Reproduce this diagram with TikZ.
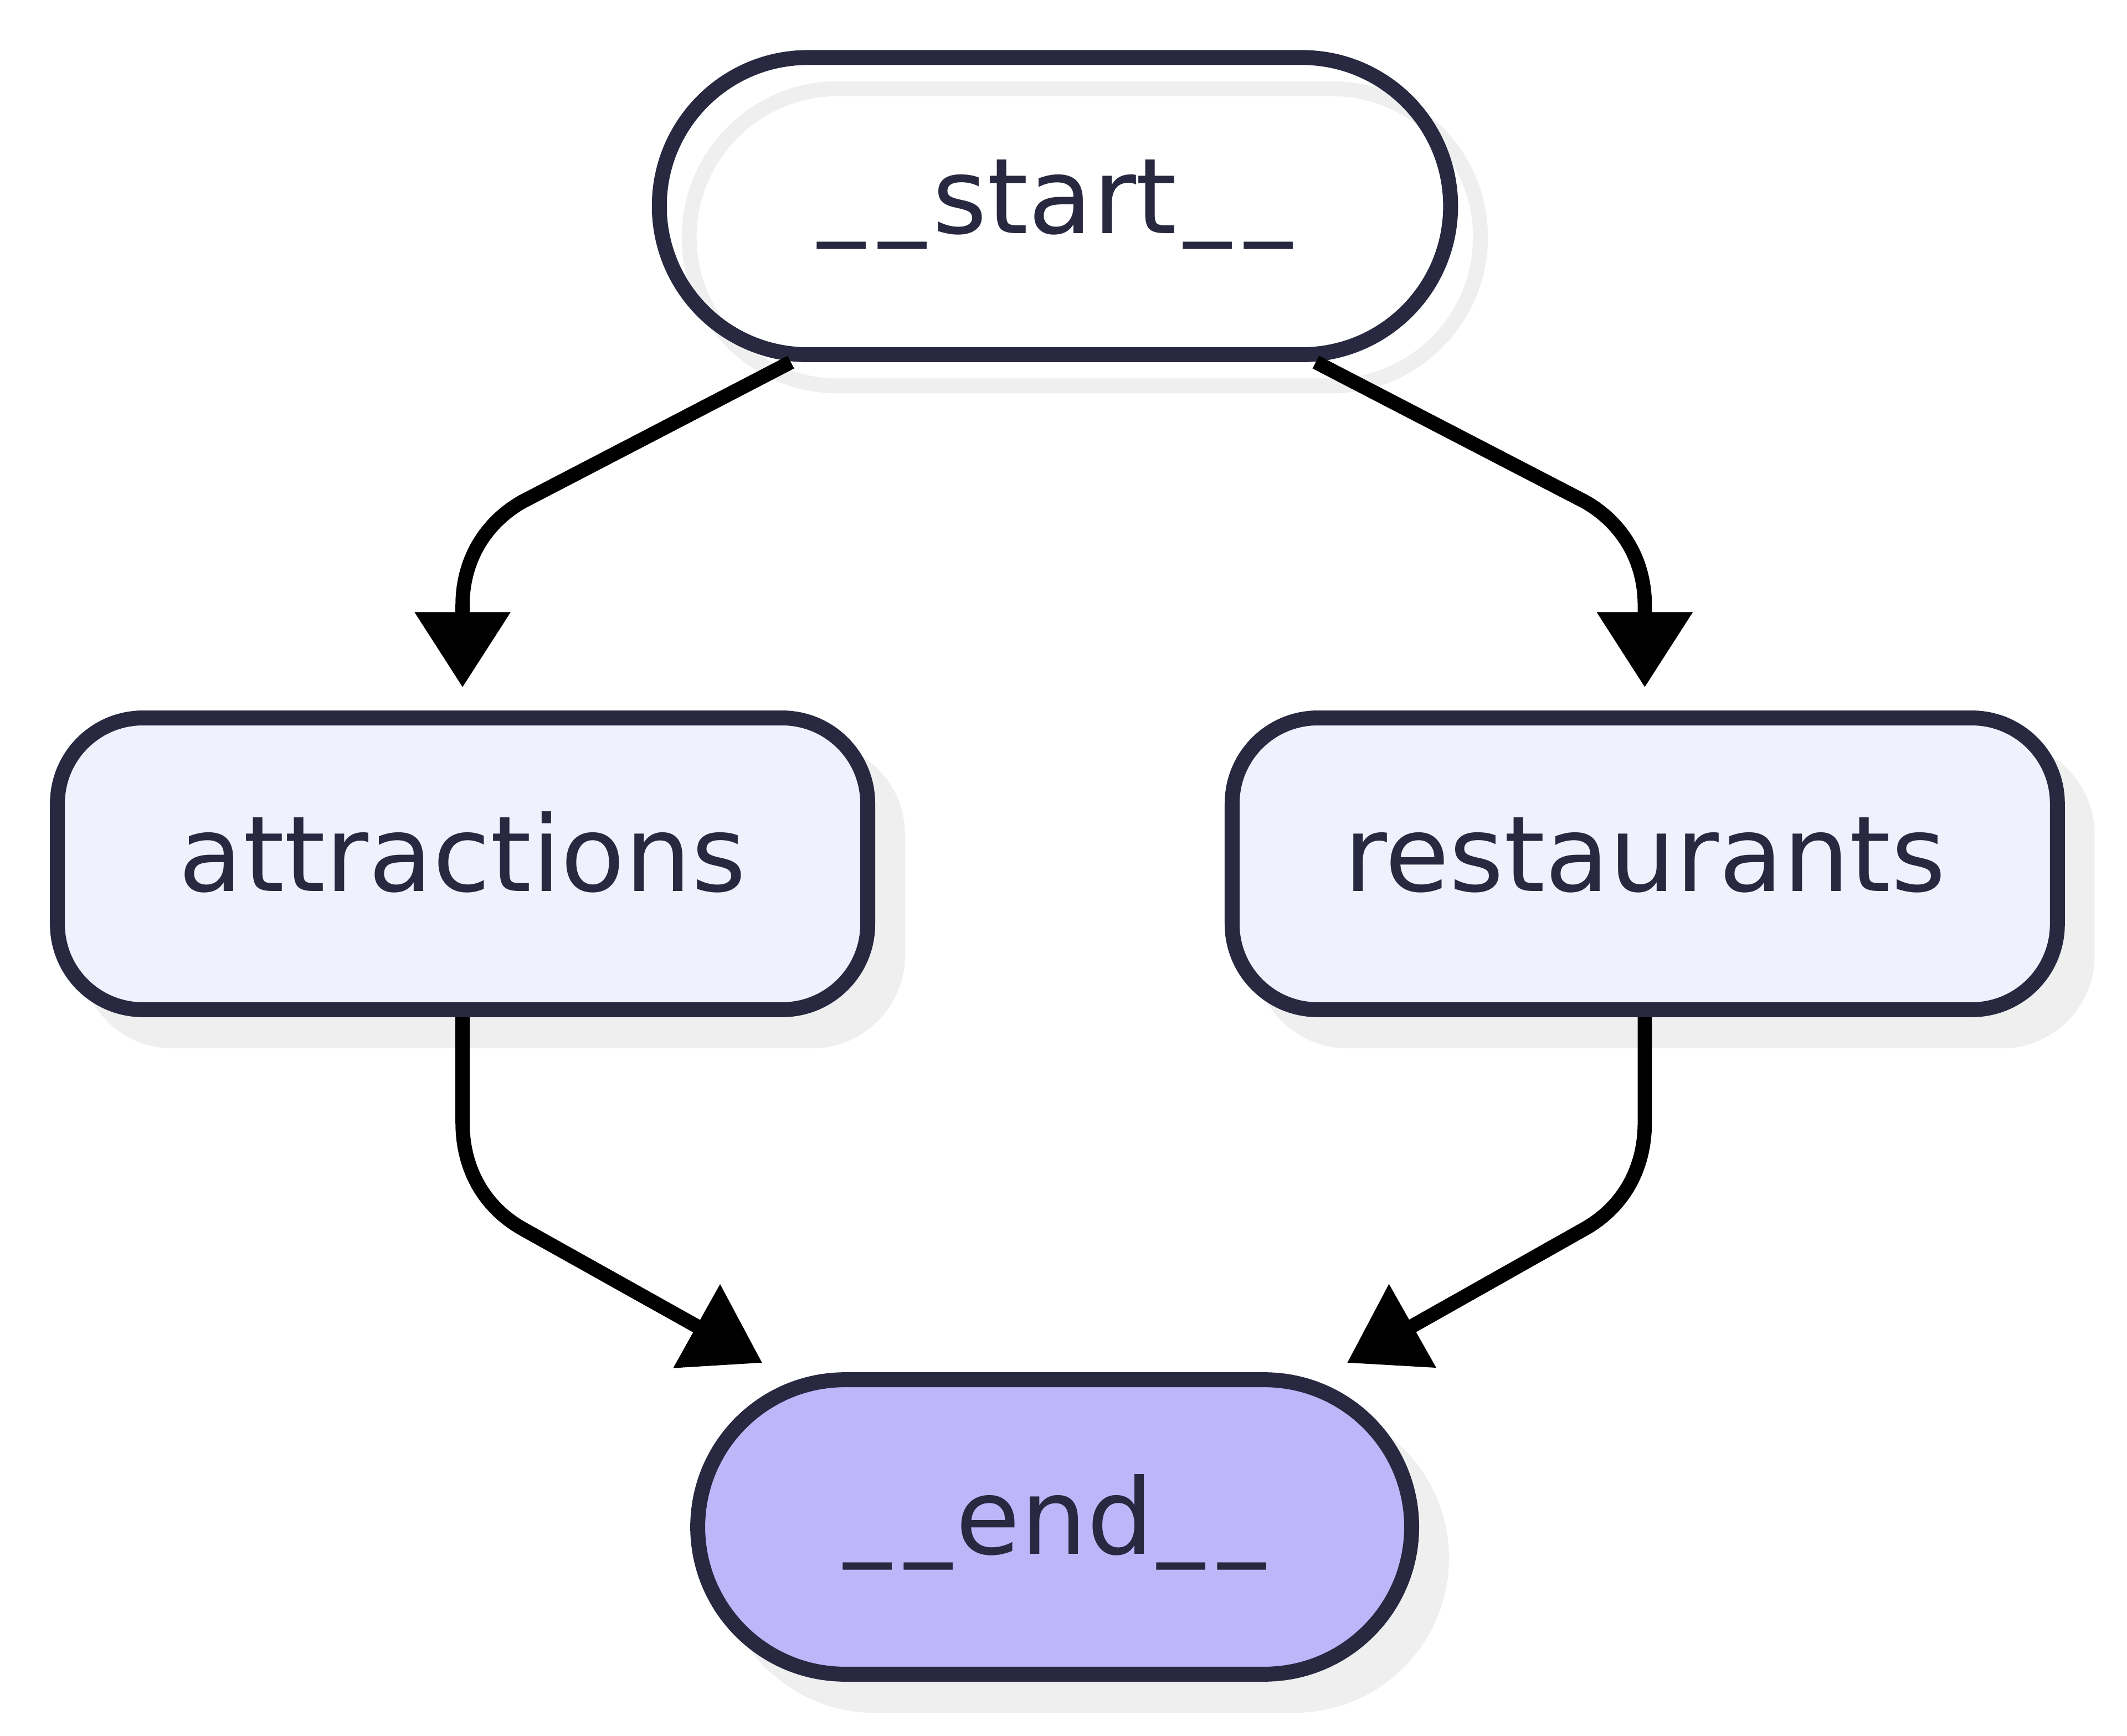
\documentclass[tikz,border=0pt]{standalone}
\usepackage{fontspec}
\newfontfamily\labelfont{DejaVu Sans}
\usetikzlibrary{arrows.meta,calc,shadows}
\definecolor{ink}{HTML}{282840}
\definecolor{shadowc}{HTML}{EFEFEF}
\definecolor{lightfill}{HTML}{F1F0FD}
\definecolor{endfill}{HTML}{BFB6FA}
\newcommand{\us}{\raisebox{1.85pt}{\scalebox{0.9}[1]{\_}}}
\tikzset{
  box/.style={draw=ink, line width=0.11cm, inner sep=0pt, text=ink,
    font=\labelfont\fontsize{22pt}{26pt}\selectfont, text height=11.4pt, text depth=0pt,
    minimum height=2.15cm},
  shadowfill/.style={general shadow={shadow xshift=0.22cm, shadow yshift=-0.23cm,
    fill=shadowc, draw=shadowc, line width=0.11cm}},
  shadowline/.style={general shadow={shadow xshift=0.22cm, shadow yshift=-0.23cm,
    fill=none, draw=shadowc, line width=0.11cm}},
  edge/.style={line width=0.105cm, draw=black, line join=round,
    -{Triangle[length=0.555cm,width=0.68cm]}}
}
\begin{document}
\begin{tikzpicture}[x=0.01cm,y=-0.01cm]
\useasboundingbox (0,0) rectangle (1568,1280);
\node[box, shadowline, minimum width=5.83cm, minimum height=2.19cm, rounded corners=1.095cm] (start) at (777.7,152)
  {\us\kern0.1cm\us\kern0.05cm start\kern0.05cm\us\kern0.1cm\us};
\node[box, shadowfill, fill=lightfill, minimum width=5.97cm, rounded corners=0.63cm] (attr) at (341,637) {attractions};
\node[box, shadowfill, fill=lightfill, minimum width=6.08cm, rounded corners=0.63cm] (rest) at (1212.5,637) {restaurants};
\node[box, shadowfill, fill=endfill, minimum width=5.26cm, minimum height=2.17cm, rounded corners=1.085cm] (end) at (777.5,1126)
  {\us\kern0.1cm\us\kern0.03cm end\kern0.03cm\us\kern0.1cm\us};

\draw[edge] ($(start.south)+(-194.7,0)$) -- (385,370) .. controls (357,386) and (341,414) .. (341,446) -- ($(attr.north)+(0,-17)$);
\draw[edge] ($(start.south)+(192.3,0)$) -- (1168.5,370) .. controls (1196.5,386) and (1212.5,414) .. (1212.5,446) -- ($(rest.north)+(0,-17)$);
\draw[edge] (attr.south) -- (341,828) .. controls (341,862) and (357,890) .. (385,906) -- ($(end.center)+(-215.5,-121)$);
\draw[edge] (rest.south) -- (1212.5,828) .. controls (1212.5,862) and (1196.5,890) .. (1168.5,906) -- ($(end.center)+(215.5,-121)$);
\end{tikzpicture}
\end{document}
